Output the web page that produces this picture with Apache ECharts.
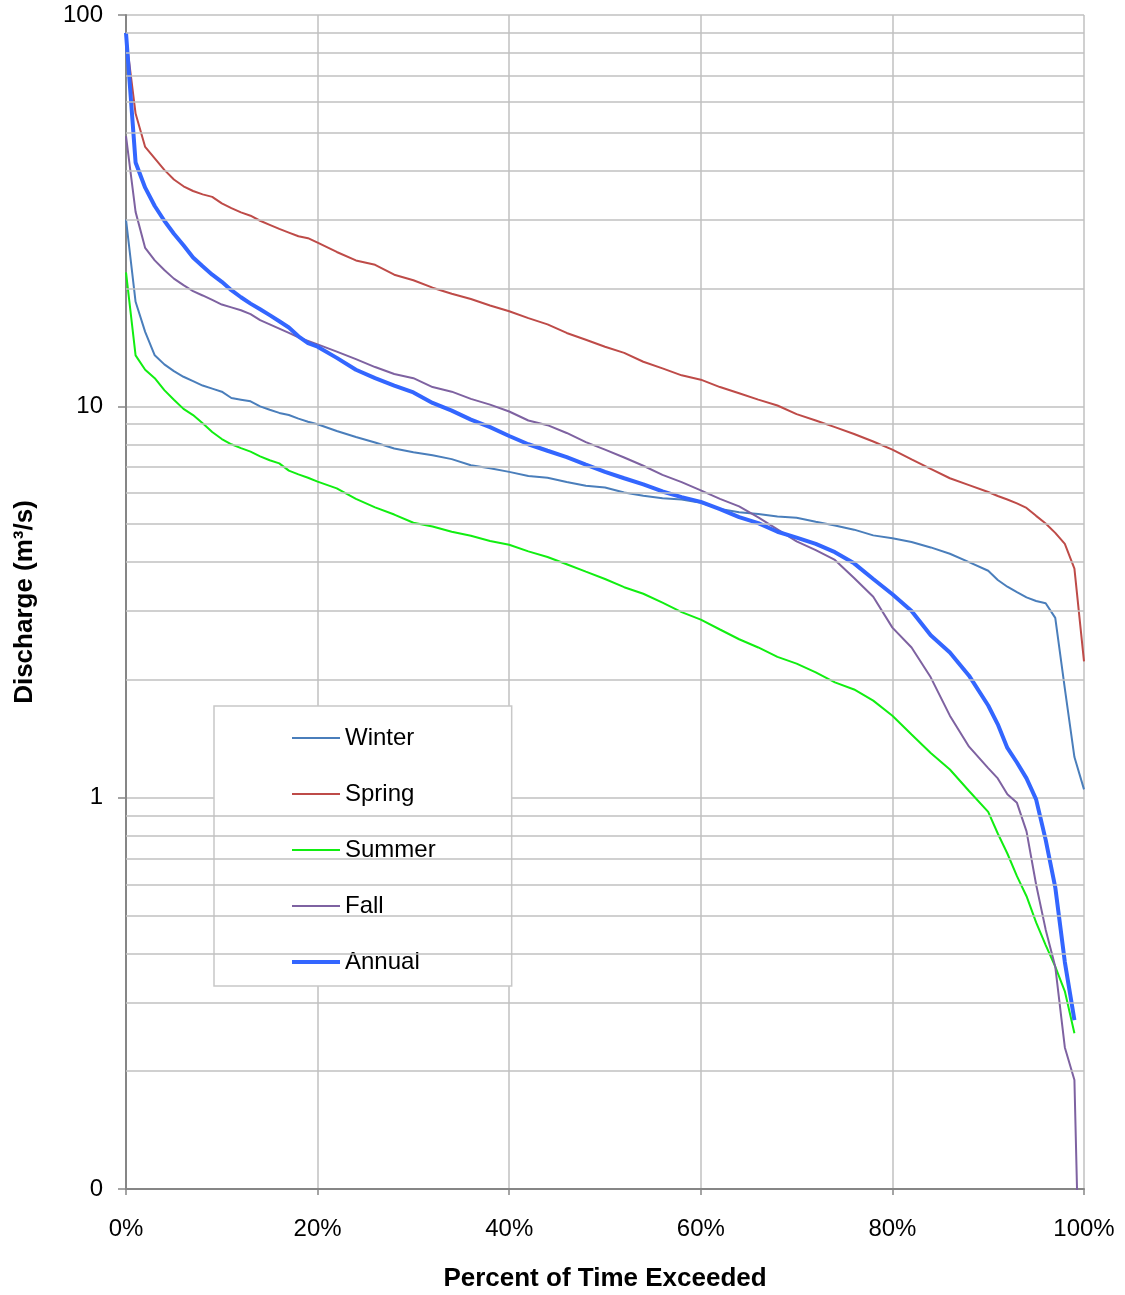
<!DOCTYPE html>
<html>
<head>
<meta charset="utf-8">
<script src="https://cdn.jsdelivr.net/npm/echarts@6/dist/echarts.min.js"></script>
<style>
html, body { margin: 0; padding: 0; background: #fff; }
#chart { width: 1125px; height: 1295px; }
</style>
</head>
<body>
<div id="chart"></div>
<script>
// percent of time exceeded (x positions shared by every season)
const pct = [0, 1, 2, 3, 4, 5, 6, 7, 8, 9, 10, 11, 12, 13, 14, 15, 16, 17, 18, 19, 20,
    22, 24, 26, 28, 30, 32, 34, 36, 38, 40, 42, 44, 46, 48, 50, 52, 54, 56, 58, 60,
    62, 64, 66, 68, 70, 72, 74, 76, 78, 80, 82, 84, 86, 88,
    90, 91, 92, 93, 94, 95, 96, 97, 98, 99, 100]

// discharge, m3/s
const winter = [30, 18.5, 15.5, 13.5, 12.8, 12.3, 11.9, 11.6, 11.3, 11.1, 10.9, 10.5, 10.4, 10.3, 10.0, 9.8, 9.62, 9.5, 9.3, 9.13, 9.0,
    8.65, 8.35, 8.08, 7.8, 7.63, 7.5, 7.33, 7.07, 6.95, 6.8, 6.64, 6.57, 6.41, 6.27, 6.2, 6.02, 5.91, 5.82, 5.78, 5.67,
    5.47, 5.36, 5.31, 5.23, 5.19, 5.07, 4.96, 4.84, 4.68, 4.6, 4.5, 4.36, 4.2, 4.0,
    3.8, 3.6, 3.46, 3.35, 3.25, 3.18, 3.14, 2.88, 1.9, 1.27, 1.05]
const spring = [88, 56, 46, 43, 40.2, 38, 36.5, 35.5, 34.8, 34.3, 33, 32.1, 31.3, 30.7, 29.8, 29.1, 28.4, 27.8, 27.2, 26.9, 26.2,
    24.8, 23.6, 23.0, 21.7, 21.0, 20.1, 19.4, 18.8, 18.1, 17.5, 16.8, 16.2, 15.4, 14.8, 14.2, 13.7, 13.0, 12.5, 12.0, 11.7,
    11.2, 10.8, 10.4, 10.05, 9.55, 9.2, 8.85, 8.5, 8.13, 7.75, 7.32, 6.92, 6.55, 6.29,
    6.04, 5.9, 5.78, 5.65, 5.5, 5.25, 5.02, 4.75, 4.45, 3.85, 2.23]
const summer = [22, 13.5, 12.4, 11.8, 11.0, 10.4, 9.85, 9.5, 9.05, 8.6, 8.25, 8.0, 7.82, 7.66, 7.45, 7.28, 7.15, 6.85, 6.7, 6.57, 6.42,
    6.17, 5.8, 5.52, 5.29, 5.04, 4.93, 4.78, 4.67, 4.53, 4.43, 4.26, 4.12, 3.95, 3.78, 3.62, 3.45, 3.32, 3.15, 2.98, 2.85,
    2.69, 2.54, 2.42, 2.29, 2.2, 2.09, 1.97, 1.89, 1.77, 1.62, 1.45, 1.3, 1.18, 1.04,
    0.92, 0.81, 0.72, 0.63, 0.56, 0.48, 0.42, 0.37, 0.32, 0.25, null]
const fall = [49, 31.4, 25.4, 23.6, 22.3, 21.2, 20.4, 19.7, 19.2, 18.7, 18.2, 17.9, 17.6, 17.2, 16.6, 16.2, 15.8, 15.4, 15.0, 14.7, 14.4,
    13.8, 13.2, 12.6, 12.1, 11.8, 11.2, 10.9, 10.45, 10.1, 9.7, 9.2, 8.95, 8.55, 8.1, 7.75, 7.4, 7.05, 6.68, 6.4, 6.1,
    5.8, 5.55, 5.2, 4.85, 4.52, 4.29, 4.05, 3.64, 3.26, 2.72, 2.42, 2.03, 1.62, 1.35,
    1.19, 1.12, 1.02, 0.97, 0.82, 0.6, 0.46, 0.37, 0.23, 0.19, 0.018]
const annual = [90, 42, 36.2, 32.5, 29.8, 27.6, 25.8, 24, 22.8, 21.7, 20.8, 19.8, 19.0, 18.3, 17.7, 17.1, 16.5, 15.9, 15.1, 14.5, 14.2,
    13.3, 12.4, 11.8, 11.3, 10.85, 10.2, 9.75, 9.25, 8.85, 8.4, 8.0, 7.7, 7.42, 7.1, 6.8, 6.55, 6.32, 6.06, 5.86, 5.7,
    5.46, 5.21, 5.03, 4.78, 4.62, 4.45, 4.24, 3.97, 3.62, 3.31, 3.0, 2.6, 2.35, 2.05,
    1.72, 1.54, 1.34, 1.23, 1.12, 0.99, 0.78, 0.59, 0.38, 0.27, null]

// light horizontal gridlines between the decades
const minorLevels = [0.2, 0.3, 0.4, 0.5, 0.6, 0.7, 0.8, 0.9,
    2, 3, 4, 5, 6, 7, 8, 9,
    20, 30, 40, 50, 60, 70, 80, 90]

const seasons = [
    {name: 'Winter', values: winter, color: '#4a7ebb', width: 2},
    {name: 'Spring', values: spring, color: '#be4b48', width: 2},
    {name: 'Summer', values: summer, color: '#11ee11', width: 2},
    {name: 'Fall', values: fall, color: '#7e62a1', width: 2},
    {name: 'Annual', values: annual, color: '#3366ff', width: 4},
]

const font = 'Liberation Sans, Arial, sans-serif'
const gridColor = '#c0c0c0'

const chart = echarts.init(document.getElementById('chart'))

const toPairs = (vals) => pct.map((p, i) => [p, vals[i]])

const series = seasons.map(s => ({
    name: s.name,
    type: 'line',
    symbol: 'none',
    z: 3,
    clip: true,
    connectNulls: false,
    data: toPairs(s.values),
    itemStyle: {color: s.color},
    lineStyle: {color: s.color, width: s.width},
}))

// dummy series only carrying the minor gridlines
series.unshift({
    name: 'grid',
    type: 'line',
    data: [],
    z: 1,
    silent: true,
    markLine: {
        silent: true,
        symbol: 'none',
        animation: false,
        label: {show: false},
        lineStyle: {color: gridColor, width: 1.5, type: 'solid'},
        data: minorLevels.map(v => ({yAxis: v})),
    },
})

chart.setOption({
    animation: false,
    backgroundColor: '#fff',
    grid: {
        left: 126,
        right: 41,
        top: 15,
        bottom: 106,
        containLabel: false,
        outerBoundsMode: 'none',
    },
    legend: {
        // per item line width, otherwise legend forces 2px
        data: seasons.map(s => ({name: s.name, lineStyle: {width: s.width}})),
        orient: 'vertical',
        left: 214,
        top: 706,
        padding: [20, 76, 12, 76],
        itemGap: 32,
        itemWidth: 48,
        itemHeight: 14,
        itemStyle: {opacity: 0},
        backgroundColor: '#fff',
        borderColor: '#c8c8c8',
        borderWidth: 1.5,
        textStyle: {fontSize: 24, color: '#000', fontFamily: font},
    },
    xAxis: {
        type: 'value',
        min: 0,
        max: 100,
        interval: 20,
        name: 'Percent of Time Exceeded',
        nameLocation: 'middle',
        nameGap: 77,
        nameTextStyle: {fontSize: 26, fontWeight: 'bold', color: '#000', fontFamily: font},
        axisLine: {lineStyle: {color: '#868686', width: 2}},
        axisTick: {show: true, length: 6, lineStyle: {color: '#868686', width: 1.5}},
        axisLabel: {formatter: '{value}%', fontSize: 24, color: '#000', margin: 28, fontFamily: font},
        splitLine: {show: true, lineStyle: {color: gridColor, width: 1.5}},
    },
    yAxis: {
        type: 'log',
        logBase: 10,
        min: 0.1,
        max: 100,
        name: 'Discharge (m³/s)',
        nameLocation: 'middle',
        nameGap: 88,
        nameTextStyle: {fontSize: 26, fontWeight: 'bold', color: '#000', fontFamily: font},
        axisLine: {show: true, lineStyle: {color: '#868686', width: 2}},
        axisTick: {show: true, length: 8, lineStyle: {color: '#868686', width: 1.5}},
        axisLabel: {
            fontSize: 24, color: '#000', margin: 23, fontFamily: font,
            formatter: v => (v < 1 ? '0' : String(v)),
        },
        splitLine: {show: true, lineStyle: {color: gridColor, width: 1.5}},
    },
    series: series,
})
</script>
</body>
</html>
